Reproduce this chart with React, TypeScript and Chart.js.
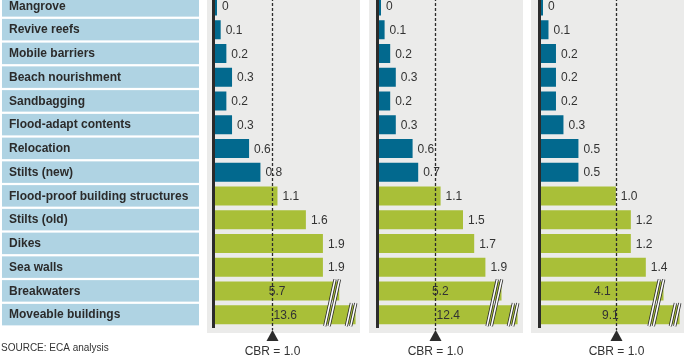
import React, { useEffect, useRef } from "react";
import { Chart, registerables } from "chart.js";

Chart.register(...registerables);

// ---------- data ----------
const categories = [
  "Mangrove",
  "Revive reefs",
  "Mobile barriers",
  "Beach nourishment",
  "Sandbagging",
  "Flood-adapt contents",
  "Relocation",
  "Stilts (new)",
  "Flood-proof building structures",
  "Stilts (old)",
  "Dikes",
  "Sea walls",
  "Breakwaters",
  "Moveable buildings",
];
const panel1Values = [0, 0.1, 0.2, 0.3, 0.2, 0.3, 0.6, 0.8, 1.1, 1.6, 1.9, 1.9, 5.7, 13.6];
const panel2Values = [0, 0.1, 0.2, 0.3, 0.2, 0.3, 0.6, 0.7, 1.1, 1.5, 1.7, 1.9, 5.2, 12.4];
const panel3Values = [0, 0.1, 0.2, 0.2, 0.2, 0.3, 0.5, 0.5, 1.0, 1.2, 1.2, 1.4, 4.1, 9.1];
const panelAxisMax = [2.5, 2.5, 1.87];
const cbrThreshold = 1.0;
const cbrLabel = "CBR = 1.0";
const sourceNote = "SOURCE: ECA analysis";
const highCbrFromIndex = 8; // rows from here on are the high-CBR (green) group

// ---------- styles ----------
const FONT = '"Liberation Sans", Arial, Helvetica, sans-serif';
const BLUE = "#02698e";
const GREEN = "#a9bf38";
const LABEL_BOX = "#afd3e3";
const PANEL_BG = "#ebebea";
const DARK = "#2b2b2b";
const TEXT = "#333333";
const BREAK_FRACTIONS = [0.875, 0.99];

const CANVAS_TOP = -7;
const CANVAS_H = 369;
const PAD_TOP = 1;
const PAD_BOTTOM = 35.5;

function fmt(v: number) {
  return v === 0 ? "0" : v.toFixed(1);
}

function drawBreak(ctx: CanvasRenderingContext2D, xTop: number, yTop: number, yBot: number) {
  const shift = (yBot - yTop) * 0.22;
  for (const off of [-2.2, 2.2]) {
    ctx.beginPath();
    ctx.moveTo(xTop + off, yTop);
    ctx.lineTo(xTop + off - shift, yBot);
    ctx.lineCap = "butt";
    ctx.strokeStyle = DARK;
    ctx.lineWidth = 3.2;
    ctx.stroke();
    ctx.strokeStyle = "#ffffff";
    ctx.lineWidth = 1.6;
    ctx.stroke();
  }
}

type PanelProps = {
  values: number[];
  max: number;
  left: number;
  width: number;
  padLeft: number;
  padRight: number;
  bgLeft: number;
  bgWidth: number;
  withLabels?: boolean;
};

function Panel(p: PanelProps) {
  const ref = useRef<HTMLCanvasElement | null>(null);

  useEffect(() => {
    const canvas = ref.current;
    if (!canvas) return;
    let brokenCount = 0;
    const display = p.values.map((v) => {
      if (v > p.max) {
        const f = BREAK_FRACTIONS[Math.min(brokenCount, BREAK_FRACTIONS.length - 1)];
        brokenCount++;
        return p.max * f;
      }
      return v;
    });
    const colors = p.values.map((_, i) => (i < highCbrFromIndex ? BLUE : GREEN));

    const decor = {
      id: "panelDecor",
      beforeDatasetsDraw(chart: any) {
        const { ctx, chartArea, scales } = chart;
        const y = scales.y;
        ctx.save();
        // panel background
        ctx.fillStyle = PANEL_BG;
        ctx.fillRect(p.bgLeft, 0, p.bgWidth, chartArea.bottom + 6.5);
        // category label column
        if (p.withLabels) {
          categories.forEach((c, i) => {
            const yc = y.getPixelForValue(i);
            ctx.fillStyle = LABEL_BOX;
            ctx.fillRect(2, yc - 10.75, 197, 21.5);
            ctx.fillStyle = DARK;
            ctx.font = `bold 12px ${FONT}`;
            ctx.textAlign = "left";
            ctx.textBaseline = "middle";
            ctx.fillText(c, 9, yc + 0.5);
          });
          ctx.fillStyle = TEXT;
          ctx.font = `10px ${FONT}`;
          ctx.textAlign = "left";
          ctx.textBaseline = "middle";
          ctx.fillText(sourceNote, 1, 355);
        }
        // axis line
        ctx.fillStyle = DARK;
        ctx.fillRect(chartArea.left - 3, 0, 3, chartArea.bottom + 1.5);
        ctx.restore();
      },
      afterDatasetsDraw(chart: any) {
        const { ctx, chartArea, scales } = chart;
        const meta = chart.getDatasetMeta(0);
        const x = scales.x;
        ctx.save();
        // axis breaks
        p.values.forEach((v, i) => {
          if (v <= p.max) return;
          const bar = meta.data[i];
          const top = bar.y - bar.height / 2 - 2;
          let bottom = bar.y + bar.height / 2 + 2;
          if (i + 1 < p.values.length && p.values[i + 1] > p.max) {
            const nb = meta.data[i + 1];
            bottom = nb.y + nb.height / 2 + 2;
          }
          drawBreak(ctx, bar.x - 2, top, bottom);
        });
        // CBR threshold line
        const cx = Math.round(x.getPixelForValue(cbrThreshold)) + 0.5;
        ctx.strokeStyle = DARK;
        ctx.lineWidth = 1.3;
        ctx.setLineDash([3, 2]);
        ctx.beginPath();
        ctx.moveTo(cx, 0);
        ctx.lineTo(cx, chartArea.bottom + 3.5);
        ctx.stroke();
        ctx.setLineDash([]);
        // triangle
        ctx.fillStyle = DARK;
        ctx.beginPath();
        ctx.moveTo(cx, chartArea.bottom + 3.5);
        ctx.lineTo(cx + 6, chartArea.bottom + 14.5);
        ctx.lineTo(cx - 6, chartArea.bottom + 14.5);
        ctx.closePath();
        ctx.fill();
        // CBR label
        ctx.fillStyle = TEXT;
        ctx.font = `12px ${FONT}`;
        ctx.textAlign = "center";
        ctx.textBaseline = "middle";
        ctx.fillText(cbrLabel, cx, chartArea.bottom + 25);
        // value labels
        p.values.forEach((v, i) => {
          const bar = meta.data[i];
          ctx.fillStyle = TEXT;
          ctx.font = `12px ${FONT}`;
          ctx.textBaseline = "middle";
          if (v > p.max) {
            ctx.textAlign = "center";
            ctx.fillText(fmt(v), (bar.base + bar.x) / 2, bar.y + 1);
          } else {
            ctx.textAlign = "left";
            ctx.fillText(fmt(v), bar.x + 5, bar.y + 1);
          }
        });
        ctx.restore();
      },
    };

    const chart = new Chart(canvas, {
      type: "bar",
      data: {
        labels: categories,
        datasets: [
          {
            data: display,
            backgroundColor: colors,
            borderWidth: 0,
            barPercentage: 0.8,
            categoryPercentage: 1,
            minBarLength: 2,
          },
        ],
      },
      options: {
        indexAxis: "y",
        responsive: false,
        maintainAspectRatio: false,
        animation: false,
        devicePixelRatio: 1,
        layout: {
          padding: { left: p.padLeft, right: p.padRight, top: PAD_TOP, bottom: PAD_BOTTOM },
        },
        scales: {
          x: { display: false, min: 0, max: p.max },
          y: { display: false },
        },
        plugins: {
          legend: { display: false },
          tooltip: { enabled: false },
        },
      },
      plugins: [decor],
    } as any);
    return () => chart.destroy();
  }, []);

  return (
    <canvas
      ref={ref}
      width={p.width}
      height={CANVAS_H}
      style={{
        position: "absolute",
        left: p.left,
        top: CANVAS_TOP,
        width: p.width,
        height: CANVAS_H,
      }}
    />
  );
}

export default function App() {
  return (
    <div
      style={{
        position: "fixed",
        left: 0,
        top: 0,
        width: 692,
        height: 362,
        overflow: "hidden",
        background: "#ffffff",
      }}
    >
      <Panel
        values={panel1Values}
        max={panelAxisMax[0]}
        left={0}
        width={360}
        padLeft={215}
        padRight={3}
        bgLeft={207}
        bgWidth={153}
        withLabels
      />
      <Panel
        values={panel2Values}
        max={panelAxisMax[1]}
        left={369}
        width={154}
        padLeft={10}
        padRight={4}
        bgLeft={0}
        bgWidth={154}
      />
      <Panel
        values={panel3Values}
        max={panelAxisMax[2]}
        left={531}
        width={154}
        padLeft={10}
        padRight={4}
        bgLeft={0}
        bgWidth={153}
      />
    </div>
  );
}
